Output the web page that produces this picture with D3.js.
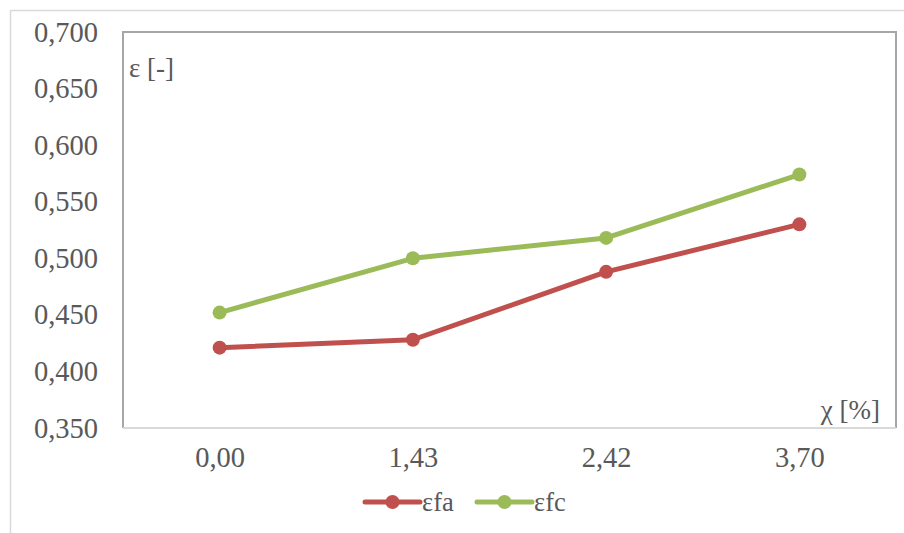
<!DOCTYPE html>
<html>
<head>
<meta charset="utf-8">
<script src="https://cdn.jsdelivr.net/npm/d3@7"></script>
<style>
  html, body { margin: 0; padding: 0; background: #fff; }
  svg { display: block; }
  text { font-family: "Liberation Serif", "Times New Roman", serif; fill: #595959; }
</style>
</head>
<body>
<svg id="chart" width="904" height="533"></svg>
<script>
// Chi values on the category axis
const categories = ["0,00", "1,43", "2,42", "3,70"];
// Strain series
const efa = [0.421, 0.428, 0.488, 0.530];
const efc = [0.452, 0.500, 0.518, 0.574];
const seriesNames = ["εfa", "εfc"];
const seriesColors = ["#C0504D", "#9BBB59"];
// Y axis ticks
const yTicks = [0.35, 0.40, 0.45, 0.50, 0.55, 0.60, 0.65, 0.70];

const svg = d3.select("#chart");
const W = 904, H = 533;
const plot = { left: 123, top: 32, right: 896, bottom: 428 };

// outer chart frame
svg.append("path")
  .attr("d", `M10.5,${H} V10.5 H${W}`)
  .attr("fill", "none").attr("stroke", "#d9d9d9").attr("stroke-width", 1.5);

const x = d3.scalePoint().domain(categories)
  .range([plot.left, plot.right]).padding(0.5);
const y = d3.scaleLinear().domain([0.35, 0.70]).range([plot.bottom, plot.top]);

// plot area frame
svg.append("path")
  .attr("d", `M${plot.left},${plot.bottom} V${plot.top} H${plot.right} V${plot.bottom}`)
  .attr("fill", "none").attr("stroke", "#a6a6a6").attr("stroke-width", 2);
svg.append("line")
  .attr("x1", plot.left).attr("x2", plot.right)
  .attr("y1", plot.bottom).attr("y2", plot.bottom)
  .attr("stroke", "#d9d9d9").attr("stroke-width", 2);

// y axis labels
const fmtY = d => d3.format(".3f")(d).replace(".", ",");
const yAxis = d3.axisLeft(y).tickValues(yTicks).tickFormat(fmtY).tickSize(0).tickPadding(25);
const gy = svg.append("g").attr("transform", `translate(${plot.left},0)`).call(yAxis);
gy.select(".domain").remove();
gy.selectAll("text").attr("font-size", 28.5).attr("font-family", null).attr("fill", "#595959");

// x axis labels
const xAxis = d3.axisBottom(x).tickSize(0).tickPadding(19);
const gx = svg.append("g").attr("transform", `translate(0,${plot.bottom})`).call(xAxis);
gx.select(".domain").remove();
gx.selectAll("text").attr("font-size", 28.5).attr("font-family", null).attr("fill", "#595959");

// axis titles
svg.append("text").attr("x", 129).attr("y", 77).attr("font-size", 27).text("ε [-]");
svg.append("text").attr("x", 880).attr("y", 419).attr("font-size", 27)
  .attr("text-anchor", "end").text("χ [%]");

// series
const line = d3.line().x((d, i) => x(categories[i])).y(d => y(d));
[efa, efc].forEach((vals, s) => {
  svg.append("path").datum(vals)
    .attr("d", line).attr("fill", "none")
    .attr("stroke", seriesColors[s]).attr("stroke-width", 5)
    .attr("stroke-linejoin", "round").attr("stroke-linecap", "round");
  svg.selectAll(null).data(vals).enter().append("circle")
    .attr("cx", (d, i) => x(categories[i])).attr("cy", d => y(d))
    .attr("r", 7).attr("fill", seriesColors[s]);
});

// legend
const legend = svg.append("g");
const legendX = [365, 477];
seriesNames.forEach((name, s) => {
  const g = legend.append("g").attr("transform", `translate(${legendX[s]},502)`);
  g.append("line").attr("x1", 0).attr("x2", 55).attr("y1", 0).attr("y2", 0)
    .attr("stroke", seriesColors[s]).attr("stroke-width", 5).attr("stroke-linecap", "round");
  g.append("circle").attr("cx", 27.5).attr("cy", 0).attr("r", 7).attr("fill", seriesColors[s]);
  g.append("text").attr("x", 57).attr("y", 9).attr("font-size", 26.5).text(name);
});
</script>
</body>
</html>
